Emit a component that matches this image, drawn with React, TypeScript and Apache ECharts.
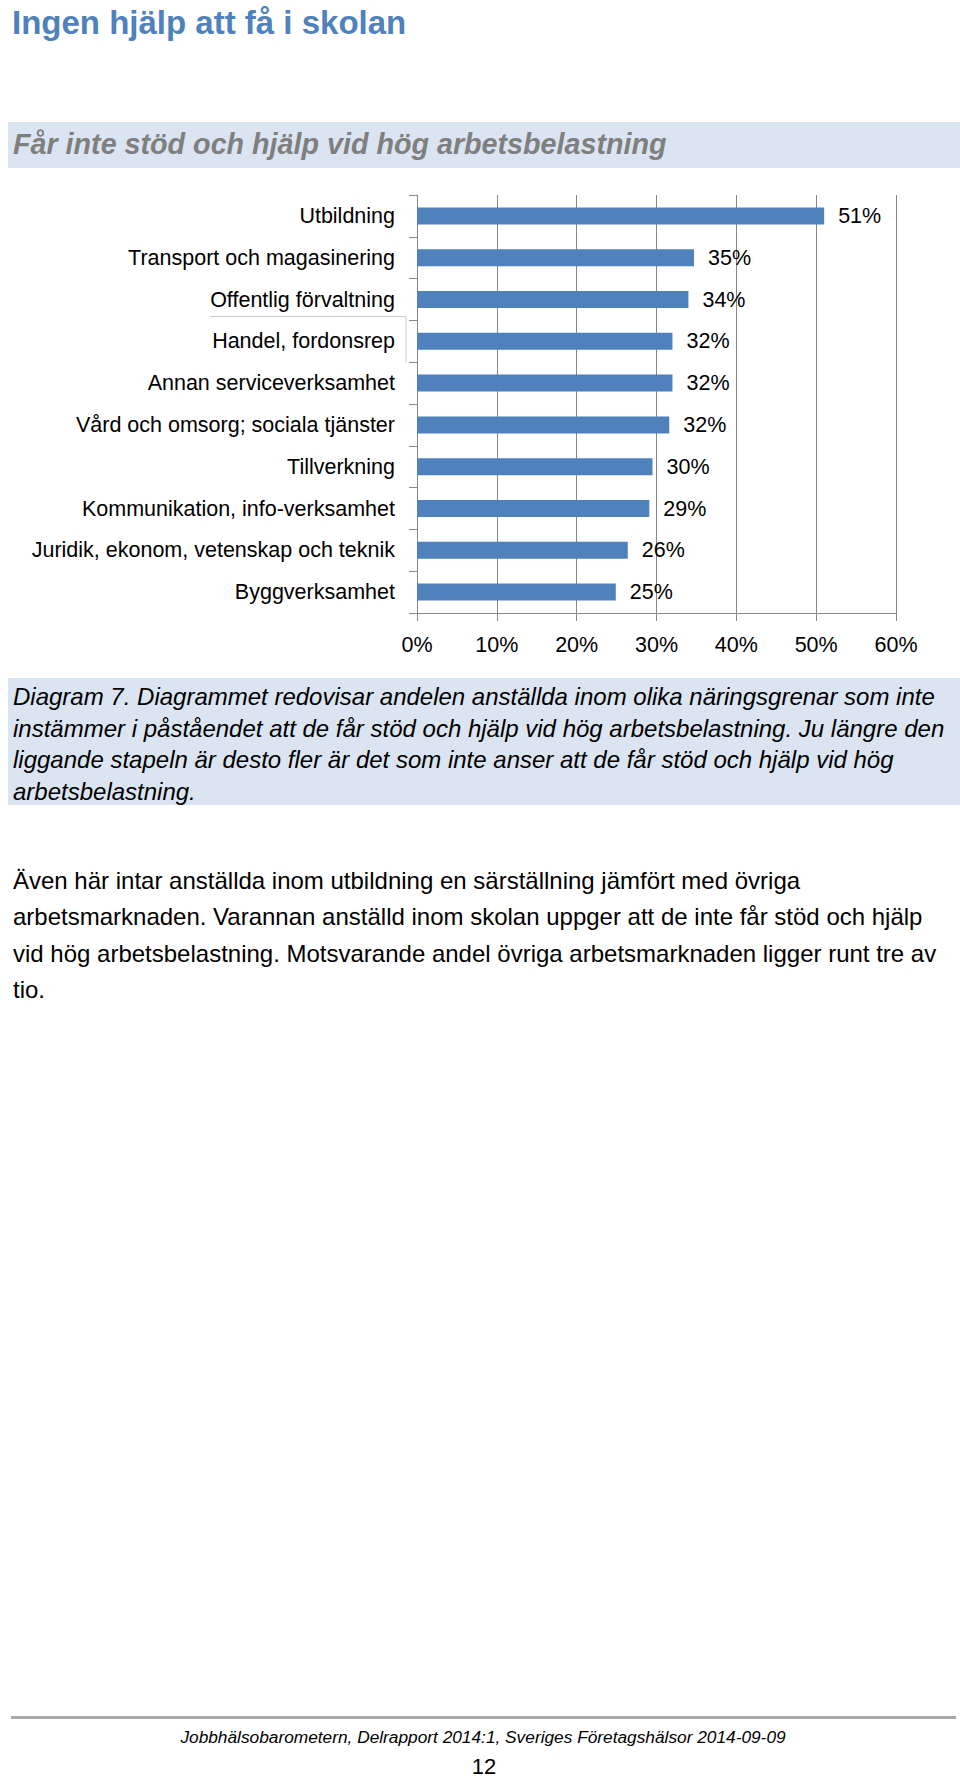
import React, { useEffect, useRef } from "react";
import * as echarts from "echarts";

const categories = [
  "Utbildning",
  "Transport och magasinering",
  "Offentlig förvaltning",
  "Handel, fordonsrep",
  "Annan serviceverksamhet",
  "Vård och omsorg; sociala tjänster",
  "Tillverkning",
  "Kommunikation, info-verksamhet",
  "Juridik, ekonom, vetenskap och teknik",
  "Byggverksamhet",
];
const values = [51.0, 34.7, 34.0, 32.0, 32.0, 31.6, 29.5, 29.1, 26.4, 24.9];
const xMin = 0;
const xMax = 60;
const xInterval = 10;

const pageTitle = "Ingen hjälp att få i skolan";
const chartTitle = "Får inte stöd och hjälp vid hög arbetsbelastning";
const captionLines = [
  "Diagram 7. Diagrammet redovisar andelen anställda inom olika näringsgrenar som inte",
  "instämmer i påståendet att de får stöd och hjälp vid hög arbetsbelastning. Ju längre den",
  "liggande stapeln är desto fler är det som inte anser att de får stöd och hjälp vid hög",
  "arbetsbelastning.",
];
const bodyLines = [
  "Även här intar anställda inom utbildning en särställning jämfört med övriga",
  "arbetsmarknaden. Varannan anställd inom skolan uppger att de inte får stöd och hjälp",
  "vid hög arbetsbelastning. Motsvarande andel övriga arbetsmarknaden ligger runt tre av",
  "tio.",
];
const footerText = "Jobbhälsobarometern, Delrapport 2014:1, Sveriges Företagshälsor 2014-09-09";
const pageNumber = "12";

const FONT = "'Liberation Sans', Arial, sans-serif";
const BLUE = "#4F81BD";
const GRID_GRAY = "#878787";

function txt(text: string, x: number, y: number, size: number, extra: any = {}) {
  return {
    type: "text",
    x,
    y,
    silent: true,
    style: {
      text,
      fontSize: size,
      fontFamily: FONT,
      fill: extra.fill || "#000",
      fontWeight: extra.fontWeight || "normal",
      fontStyle: extra.fontStyle || "normal",
      align: extra.align || "left",
      textAlign: extra.align || "left",
      verticalAlign: "middle",
      textVerticalAlign: "middle",
    },
  };
}

export default function App() {
  const ref = useRef<HTMLDivElement>(null);

  useEffect(() => {
    if (!ref.current) return;
    const chart = echarts.init(ref.current, null, { renderer: "svg" });

    const graphics: any[] = [];
    // title
    graphics.push(txt(pageTitle, 12, 22.5, 33, { fill: BLUE, fontWeight: "bold" }));
    // subtitle band
    graphics.push({
      type: "rect",
      silent: true,
      shape: { x: 8, y: 122, width: 952, height: 46 },
      style: { fill: "#DBE5F1" },
    });
    graphics.push(
      txt(chartTitle, 13, 144, 28.7, { fill: "#7F7F7F", fontWeight: "bold", fontStyle: "italic" })
    );
    // box around "Handel, fordonsrep" label
    graphics.push({
      type: "polyline",
      silent: true,
      shape: { points: [[210, 316.5], [406, 316.5], [406, 363]] },
      style: { stroke: "#C8C8C8", lineWidth: 1, fill: null },
    });
    // caption band
    graphics.push({
      type: "rect",
      silent: true,
      shape: { x: 8, y: 678, width: 952, height: 127 },
      style: { fill: "#DBE5F1" },
    });
    const capBase = [705, 736.5, 768, 799.5];
    captionLines.forEach((l, i) => {
      graphics.push(txt(l, 13, capBase[i] - 8.4, 24, { fontStyle: "italic" }));
    });
    const bodyBase = [889, 925.3, 961.6, 997.9];
    bodyLines.forEach((l, i) => {
      graphics.push(txt(l, 13, bodyBase[i] - 8.4, 24));
    });
    // footer
    graphics.push({
      type: "line",
      silent: true,
      shape: { x1: 11, y1: 1717.5, x2: 956, y2: 1717.5 },
      style: { stroke: "#A8A8A8", lineWidth: 3 },
    });
    graphics.push(txt(footerText, 483, 1737, 17.3, { fontStyle: "italic", align: "center" }));
    graphics.push(txt(pageNumber, 484, 1766, 22, { align: "center" }));

    chart.setOption({
      animation: false,
      textStyle: { fontFamily: FONT },
      graphic: graphics,
      grid: { left: 417, right: 64, top: 195, height: 418, containLabel: false },
      xAxis: {
        type: "value",
        min: xMin,
        max: xMax,
        interval: xInterval,
        axisLine: { show: true, lineStyle: { color: GRID_GRAY, width: 1 } },
        axisTick: { show: true, length: 8, lineStyle: { color: GRID_GRAY } },
        splitLine: { show: true, lineStyle: { color: GRID_GRAY, width: 1 } },
        axisLabel: {
          formatter: "{value}%",
          fontSize: 21.5,
          color: "#000",
          margin: 21,
          fontFamily: FONT,
        },
      },
      yAxis: {
        type: "category",
        data: categories,
        inverse: true,
        axisLine: { show: true, lineStyle: { color: GRID_GRAY, width: 1 } },
        axisTick: { show: true, length: 8, lineStyle: { color: GRID_GRAY } },
        splitLine: { show: false },
        axisLabel: {
          fontSize: 21.5,
          color: "#000",
          margin: 22,
          fontFamily: FONT,
        },
      },
      series: [
        {
          type: "bar",
          data: values,
          barWidth: 17,
          itemStyle: { color: BLUE },
          label: {
            show: true,
            position: "right",
            distance: 14,
            fontSize: 21.5,
            color: "#000",
            fontFamily: FONT,
            formatter: (p: any) => Math.round(p.value) + "%",
          },
        },
      ],
    });

    return () => {
      chart.dispose();
    };
  }, []);

  return (
    <div
      ref={ref}
      style={{ position: "absolute", left: 0, top: 0, width: 960, height: 1777, background: "#fff" }}
    />
  );
}
